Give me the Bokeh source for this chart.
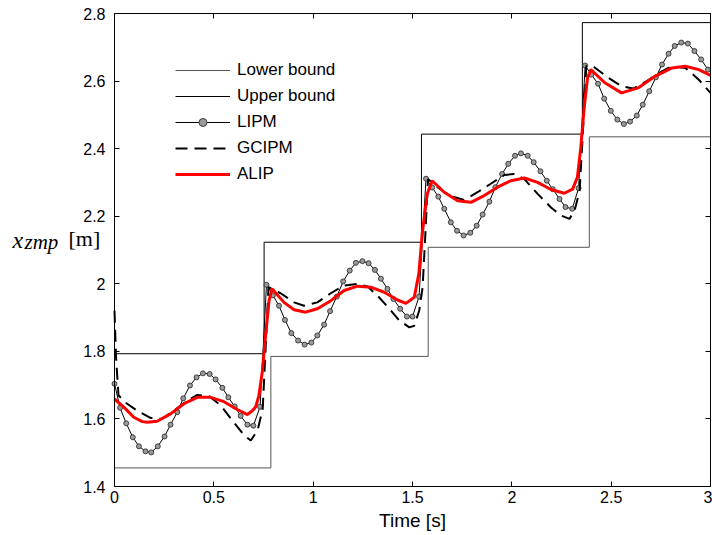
import numpy as np
from bokeh.plotting import figure
from bokeh.models import (Range1d, FixedTicker, LinearAxis, Legend, LegendItem,
                          Label, CustomJSTickFormatter)
from bokeh.embed import file_html
from bokeh.resources import INLINE

# ---------------- data ----------------
upper_t = [0.0, 0.753, 1.545, 2.355, 3.0]
upper_x = [1.793, 2.123, 2.443, 2.773, 2.773]
lower_t = [0.0, 0.787, 1.579, 2.390, 3.0]
lower_x = [1.455, 1.785, 2.108, 2.435, 2.435]

lipm_t = [0.000, 0.028, 0.059, 0.092, 0.123, 0.156, 0.185, 0.218, 0.252, 0.282,
          0.316, 0.346, 0.380, 0.413, 0.445, 0.479, 0.509, 0.543, 0.573, 0.605,
          0.635, 0.669, 0.699, 0.733, 0.765, 0.797, 0.828, 0.858, 0.890, 0.924,
          0.957, 0.991, 1.021, 1.055, 1.085, 1.119, 1.151, 1.184, 1.215, 1.248,
          1.279, 1.311, 1.341, 1.374, 1.404, 1.438, 1.472, 1.500, 1.533, 1.568,
          1.599, 1.630, 1.660, 1.693, 1.724, 1.757, 1.791, 1.823, 1.853, 1.887,
          1.917, 1.951, 1.982, 2.016, 2.046, 2.080, 2.110, 2.144, 2.176, 2.206,
          2.240, 2.270, 2.304, 2.336, 2.369, 2.400, 2.434, 2.465, 2.498, 2.531,
          2.564, 2.595, 2.629, 2.659, 2.692, 2.725, 2.756, 2.789, 2.820, 2.853,
          2.886, 2.919, 2.953, 2.987]
lipm_x = [1.704, 1.633, 1.587, 1.546, 1.519, 1.504, 1.501, 1.519, 1.548, 1.583,
          1.620, 1.661, 1.699, 1.723, 1.735, 1.733, 1.717, 1.692, 1.664, 1.637,
          1.609, 1.583, 1.580, 1.636, 1.997, 1.966, 1.935, 1.893, 1.854, 1.832,
          1.820, 1.826, 1.847, 1.879, 1.919, 1.962, 2.007, 2.039, 2.062, 2.067,
          2.061, 2.041, 2.015, 1.985, 1.955, 1.926, 1.903, 1.903, 1.962, 2.311,
          2.285, 2.258, 2.222, 2.182, 2.157, 2.143, 2.151, 2.172, 2.205, 2.243,
          2.286, 2.325, 2.355, 2.379, 2.386, 2.379, 2.360, 2.333, 2.305, 2.280,
          2.251, 2.227, 2.222, 2.283, 2.646, 2.619, 2.592, 2.548, 2.512, 2.486,
          2.473, 2.480, 2.498, 2.530, 2.570, 2.611, 2.649, 2.681, 2.704, 2.714,
          2.711, 2.689, 2.664, 2.634]

gcipm_t = [0.000, 0.008, 0.020, 0.054, 0.113, 0.181, 0.240, 0.299, 0.366, 0.417,
           0.476, 0.535, 0.594, 0.653, 0.686, 0.720, 0.746, 0.760, 0.775, 0.836,
           0.904, 0.954, 1.021, 1.089, 1.156, 1.223, 1.274, 1.324, 1.391, 1.434,
           1.484, 1.509, 1.534, 1.551, 1.565, 1.578, 1.626, 1.685, 1.760, 1.827,
           1.894, 1.962, 2.012, 2.063, 2.130, 2.197, 2.248, 2.290, 2.316, 2.341,
           2.358, 2.375, 2.409, 2.485, 2.552, 2.611, 2.679, 2.755, 2.806, 2.874,
           2.941, 2.992, 3.000]
gcipm_x = [1.920, 1.780, 1.670, 1.649, 1.625, 1.603, 1.600, 1.625, 1.654, 1.671,
           1.667, 1.640, 1.595, 1.551, 1.536, 1.566, 1.630, 1.800, 1.990, 1.972,
           1.945, 1.935, 1.945, 1.972, 1.995, 2.000, 1.992, 1.965, 1.921, 1.891,
           1.871, 1.876, 1.921, 1.990, 2.150, 2.310, 2.286, 2.261, 2.248, 2.271,
           2.296, 2.322, 2.325, 2.310, 2.266, 2.226, 2.202, 2.192, 2.217, 2.275,
           2.450, 2.645, 2.644, 2.610, 2.585, 2.578, 2.600, 2.629, 2.644, 2.639,
           2.604, 2.570, 2.566]

alip_t = [0.000, 0.047, 0.097, 0.140, 0.165, 0.215, 0.282, 0.350, 0.417, 0.484,
          0.551, 0.618, 0.669, 0.694, 0.711, 0.727, 0.744, 0.761, 0.778, 0.793,
          0.853, 0.904, 0.962, 1.021, 1.089, 1.156, 1.223, 1.290, 1.358, 1.425,
          1.467, 1.509, 1.532, 1.549, 1.574, 1.599, 1.660, 1.727, 1.794, 1.861,
          1.928, 1.995, 2.063, 2.130, 2.197, 2.264, 2.306, 2.330, 2.347, 2.364,
          2.381, 2.398, 2.468, 2.552, 2.637, 2.721, 2.806, 2.874, 2.941, 3.000]
alip_x = [1.659, 1.635, 1.605, 1.592, 1.590, 1.593, 1.615, 1.645, 1.664, 1.664,
          1.651, 1.628, 1.613, 1.624, 1.636, 1.670, 1.740, 1.850, 1.950, 1.985,
          1.945, 1.923, 1.916, 1.926, 1.950, 1.980, 1.993, 1.990, 1.975, 1.952,
          1.942, 1.960, 2.030, 2.148, 2.266, 2.305, 2.271, 2.246, 2.241, 2.261,
          2.286, 2.305, 2.313, 2.300, 2.279, 2.268, 2.280, 2.315, 2.403, 2.521,
          2.609, 2.634, 2.595, 2.565, 2.580, 2.614, 2.639, 2.644, 2.634, 2.617]

x_ticks = [0, 0.5, 1, 1.5, 2, 2.5, 3]
y_ticks = [1.4, 1.6, 1.8, 2.0, 2.2, 2.4, 2.6, 2.8]
x_lim = (0, 3)
y_lim = (1.4, 2.8)
legend_labels = ["Lower bound", "Upper bound", "LIPM", "GCIPM", "ALIP"]
x_title = "Time [s]"

# ---------------- layout (the frame fills the canvas; the axes box is drawn
# with fixed-location axes limited to x_lim / y_lim) ----------------
W, H = 712, 535
BOX_L, BOX_R, BOX_T, BOX_B = 114, 710, 13, 486
sx = (BOX_R - BOX_L) / (x_lim[1] - x_lim[0])
sy = (BOX_B - BOX_T) / (y_lim[1] - y_lim[0])
x_range = Range1d(x_lim[0] - BOX_L / sx, x_lim[1] + (W - BOX_R) / sx)
y_range = Range1d(y_lim[0] - (H - BOX_B) / sy, y_lim[1] + BOX_T / sy)

p = figure(width=W, height=H, output_backend="svg", toolbar_location=None,
           x_range=x_range, y_range=y_range,
           min_border_left=0, min_border_right=0, min_border_top=0,
           min_border_bottom=0)
p.background_fill_color = "white"
p.border_fill_color = "white"
p.outline_line_color = None
p.xgrid.visible = False
p.ygrid.visible = False

fmt_code = "var s = tick.toFixed(1); return s.endsWith('.0') ? s.slice(0, -2) : s;"


def style_axis(ax, ticks, bounds, loc, show_labels):
    ax.ticker = FixedTicker(ticks=ticks)
    ax.bounds = bounds
    ax.fixed_location = loc
    ax.axis_line_color = "black"
    ax.axis_line_width = 1
    ax.major_tick_line_color = "black"
    ax.major_tick_in = 5
    ax.major_tick_out = 0
    ax.minor_tick_line_color = None
    if show_labels:
        ax.formatter = CustomJSTickFormatter(code=fmt_code)
        ax.major_label_text_font = "Liberation Sans"
        ax.major_label_text_font_size = "16px"
        ax.major_label_text_color = "black"
    else:
        ax.formatter = CustomJSTickFormatter(code="return '';")
        ax.major_label_text_font_size = "0px"
        ax.major_label_standoff = 0


style_axis(p.xaxis[0], x_ticks, x_lim, y_lim[0], True)
style_axis(p.yaxis[0], y_ticks, y_lim, x_lim[0], True)
p.yaxis[0].major_label_standoff = 9
p.xaxis[0].major_label_standoff = 4

top_ax = LinearAxis()
right_ax = LinearAxis()
style_axis(top_ax, x_ticks, x_lim, y_lim[1], False)
style_axis(right_ax, y_ticks, y_lim, x_lim[1], False)
p.add_layout(top_ax, "above")
p.add_layout(right_ax, "right")

# ---------------- glyphs ----------------
r_lower = p.step(lower_t, lower_x, mode="after", line_color="#555555", line_width=1)
r_upper = p.step(upper_t, upper_x, mode="after", line_color="black", line_width=1)
r_lipm_l = p.line(lipm_t, lipm_x, line_color="black", line_width=1)
r_lipm_m = p.scatter(lipm_t, lipm_x, marker="circle", size=5, line_color="#333333",
                     fill_color="#9a9a9a", line_width=0.9)
r_gcipm = p.line(gcipm_t, gcipm_x, line_color="black", line_width=2, line_dash="12 7")
r_alip = p.line(alip_t, alip_x, line_color="#ff0000", line_width=3)

legend = Legend(items=[
    LegendItem(label=legend_labels[0], renderers=[r_lower]),
    LegendItem(label=legend_labels[1], renderers=[r_upper]),
    LegendItem(label=legend_labels[2], renderers=[r_lipm_l, r_lipm_m]),
    LegendItem(label=legend_labels[3], renderers=[r_gcipm]),
    LegendItem(label=legend_labels[4], renderers=[r_alip]),
], location=(175, 351))
legend.border_line_color = None
legend.background_fill_color = None
legend.background_fill_alpha = 0
legend.padding = 0
legend.margin = 0
legend.spacing = 6
legend.glyph_width = 55
legend.glyph_height = 20
legend.label_height = 20
legend.label_standoff = 7
legend.label_text_font = "Liberation Sans"
legend.label_text_font_size = "17px"
legend.label_text_color = "black"
legend.label_text_baseline = "middle"
p.add_layout(legend, "center")

# ---------------- axis titles ----------------
p.add_layout(Label(x=412, y=H - 520, x_units="screen", y_units="screen",
                   text=x_title, text_font="Liberation Sans", text_font_size="19px",
                   text_color="black", text_align="center", text_baseline="middle"))

common = dict(x_units="screen", y_units="screen", text_color="black",
              text_baseline="alphabetic", text_align="left",
              text_font="Liberation Serif")
lab_x = Label(x=12, y=H - 239, text="x", text_font_style="italic",
              text_font_size="24px", **common)
lab_sub = Label(x=24, y=H - 241, text="zmp", text_font_style="italic",
                text_font_size="21px", **common)
lab_unit = Label(x=68, y=H - 238, text="[m]", text_font_style="normal",
                 text_font_size="22px", **common)
for lb in (lab_x, lab_sub, lab_unit):
    p.add_layout(lb)

open("out.html", "w").write(file_html(p, INLINE))
